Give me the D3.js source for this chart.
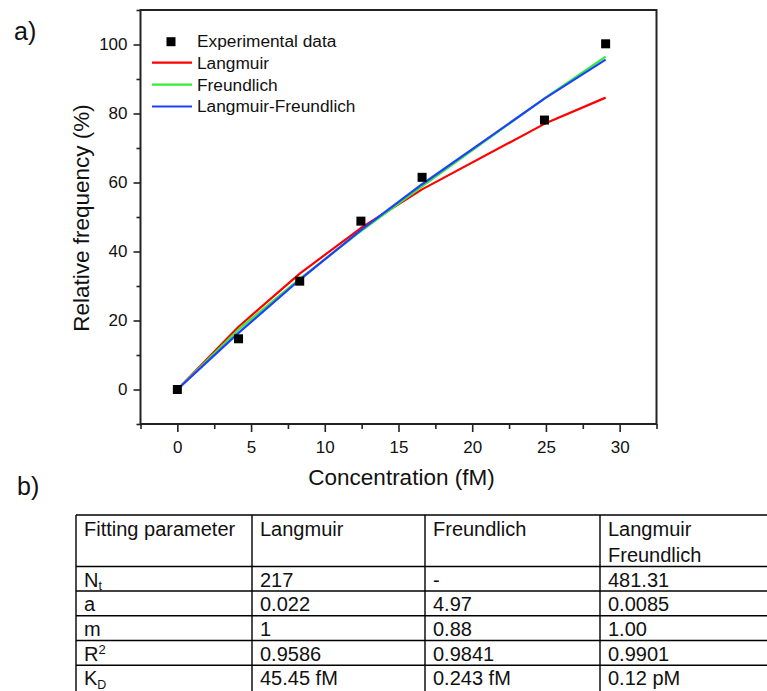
<!DOCTYPE html>
<html>
<head>
<meta charset="utf-8">
<script src="https://cdn.jsdelivr.net/npm/d3@7"></script>
<style>
  html, body { margin: 0; padding: 0; background: #fff; }
  svg { display: block; }
  text { font-family: Arial, "Liberation Sans", sans-serif; fill: #111; }
</style>
</head>
<body>
<svg id="chart" width="767" height="691"></svg>
<script>
// ---------- Data ----------
const concentration = [0, 4.15, 8.3, 12.45, 16.6, 24.9, 29.05];
const experimental = [0, 14.7, 31.4, 48.8, 61.5, 78.1, 100.2];
const langmuirFit = [0, 18.2, 33.6, 46.8, 58.0, 77.0, 84.6];
const freundlichFit = [0, 17.4, 32.1, 45.9, 58.9, 84.4, 96.5];
const lfFit = [0, 16.4, 31.8, 46.2, 59.5, 84.3, 95.6];

const xMajorTicks = [0, 5, 10, 15, 20, 25, 30];
const xMinorTicks = [-2.5, 2.5, 7.5, 12.5, 17.5, 22.5, 27.5, 32.5];
const yMajorTicks = [0, 20, 40, 60, 80, 100];
const yMinorTicks = [-10, 10, 30, 50, 70, 90, 110];

const seriesNames = ["Langmuir", "Freundlich", "Langmuir-Freundlich"];
const seriesColors = ["#ff0000", "#33ee33", "#1f3fff"];

const tableHeader = ["Fitting parameter", "Langmuir", "Freundlich", "Langmuir|Freundlich"];
const rowSymbols = ["N", "a", "m", "R", "K"];
const rowMarks = ["t", "", "", "2", "D"];          // subscript / superscript text
const rowMarkType = ["sub", "", "", "sup", "sub"];
const langmuirParams = ["217", "0.022", "1", "0.9586", "45.45 fM"];
const freundlichParams = ["-", "4.97", "0.88", "0.9841", "0.243 fM"];
const lfParams = ["481.31", "0.0085", "1.00", "0.9901", "0.12 pM"];

// ---------- Chart ----------
const svg = d3.select("#chart");
const plot = { left: 140.5, right: 656.5, top: 10, bottom: 424 };

const x = d3.scaleLinear().domain([-2.5, 32.5]).range([plot.left, plot.right]);
const y = d3.scaleLinear().domain([-10, 110]).range([plot.bottom, plot.top]);

const axisColor = "#222";
const tickFont = "17px";

// minor ticks
svg.append("g")
  .attr("transform", `translate(0,${plot.bottom})`)
  .call(d3.axisBottom(x).tickValues(xMinorTicks).tickSize(5).tickFormat(""))
  .call(g => g.select(".domain").remove())
  .call(g => g.selectAll("line").attr("stroke", axisColor).attr("stroke-width", 1.6));
svg.append("g")
  .attr("transform", `translate(${plot.left},0)`)
  .call(d3.axisLeft(y).tickValues(yMinorTicks).tickSize(4).tickFormat(""))
  .call(g => g.select(".domain").remove())
  .call(g => g.selectAll("line").attr("stroke", axisColor).attr("stroke-width", 1.6));

// major ticks
const gx = svg.append("g")
  .attr("transform", `translate(0,${plot.bottom})`)
  .call(d3.axisBottom(x).tickValues(xMajorTicks).tickSize(8).tickPadding(9).tickFormat(d3.format("d")));
gx.select(".domain").remove();
gx.selectAll("line").attr("stroke", axisColor).attr("stroke-width", 1.6);
gx.selectAll("text").style("font-size", tickFont).attr("fill", "#111");

const gy = svg.append("g")
  .attr("transform", `translate(${plot.left},0)`)
  .call(d3.axisLeft(y).tickValues(yMajorTicks).tickSize(7).tickPadding(6).tickFormat(d3.format("d")));
gy.select(".domain").remove();
gy.selectAll("line").attr("stroke", axisColor).attr("stroke-width", 1.6);
gy.selectAll("text").style("font-size", tickFont).attr("fill", "#111");

// frame
svg.append("rect")
  .attr("x", plot.left).attr("y", plot.top)
  .attr("width", plot.right - plot.left).attr("height", plot.bottom - plot.top)
  .attr("fill", "none").attr("stroke", axisColor).attr("stroke-width", 2);

// fitted lines
const fits = [langmuirFit, freundlichFit, lfFit];
const line = d3.line().x((d, i) => x(concentration[i])).y(d => y(d));
fits.forEach((vals, k) => {
  svg.append("path")
    .datum(vals)
    .attr("d", line)
    .attr("fill", "none")
    .attr("stroke", seriesColors[k])
    .attr("stroke-width", 2.2)
    .attr("stroke-linejoin", "round");
});

// experimental points
const ms = 9;
svg.append("g").selectAll("rect")
  .data(experimental)
  .join("rect")
  .attr("x", (d, i) => x(concentration[i]) - ms / 2)
  .attr("y", d => y(d) - ms / 2)
  .attr("width", ms).attr("height", ms)
  .attr("fill", "#000");

// axis titles
svg.append("text")
  .attr("x", (plot.left + plot.right) / 2 + 3).attr("y", 485)
  .attr("text-anchor", "middle")
  .style("font-size", "22.5px")
  .text("Concentration (fM)");
svg.append("text")
  .attr("transform", `translate(89,218) rotate(-90)`)
  .attr("text-anchor", "middle")
  .style("font-size", "22.5px")
  .text("Relative frequency (%)");

// legend
const legX = 152, legTextX = 197;
const legBase = [47, 68.5, 90.5, 112.3];
const legFont = "17.3px";
svg.append("rect")
  .attr("x", 171 - ms / 2).attr("y", 41.7 - ms / 2)
  .attr("width", ms).attr("height", ms).attr("fill", "#000");
svg.append("text").attr("x", legTextX).attr("y", legBase[0])
  .style("font-size", legFont).text("Experimental data");
seriesNames.forEach((name, k) => {
  const yb = legBase[k + 1];
  svg.append("line")
    .attr("x1", legX).attr("x2", legX + 40)
    .attr("y1", yb - 5.8).attr("y2", yb - 5.8)
    .attr("stroke", seriesColors[k]).attr("stroke-width", 2.2);
  svg.append("text").attr("x", legTextX).attr("y", yb)
    .style("font-size", legFont).text(name);
});

// panel labels
svg.append("text").attr("x", 14).attr("y", 39.5).style("font-size", "25px").text("a)");
svg.append("text").attr("x", 17).attr("y", 495).style("font-size", "25px").text("b)");

// ---------- Table ----------
const colX = [76, 252, 425, 600, 800];
const rowY = [515, 566.5, 591, 615.7, 640.5, 665.3, 720];
const tbl = svg.append("g");
const tfs = 20;

rowY.forEach(yy => {
  tbl.append("line").attr("x1", colX[0]).attr("x2", colX[4])
    .attr("y1", yy).attr("y2", yy).attr("stroke", "#000").attr("stroke-width", 1.4);
});
colX.forEach(xx => {
  tbl.append("line").attr("x1", xx).attr("x2", xx)
    .attr("y1", rowY[0]).attr("y2", rowY[6]).attr("stroke", "#000").attr("stroke-width", 1.4);
});

// header
tableHeader.forEach((h, c) => {
  h.split("|").forEach((part, li) => {
    tbl.append("text")
      .attr("x", colX[c] + 8).attr("y", 536 + li * 26)
      .style("font-size", tfs + "px").text(part);
  });
});

// body rows
const cols = [langmuirParams, freundlichParams, lfParams];
rowSymbols.forEach((sym, r) => {
  const yb = rowY[r + 1] + 20;
  const t = tbl.append("text").attr("x", colX[0] + 8).attr("y", yb)
    .style("font-size", tfs + "px");
  t.append("tspan").text(sym);
  if (rowMarkType[r] === "sub") {
    t.append("tspan").attr("dy", 3.5).style("font-size", "12.5px").text(rowMarks[r]);
  } else if (rowMarkType[r] === "sup") {
    t.append("tspan").attr("dy", -7).style("font-size", "13px").text(rowMarks[r]);
  }
  cols.forEach((col, c) => {
    tbl.append("text").attr("x", colX[c + 1] + 8).attr("y", yb)
      .style("font-size", tfs + "px").text(col[r]);
  });
});
</script>
</body>
</html>
